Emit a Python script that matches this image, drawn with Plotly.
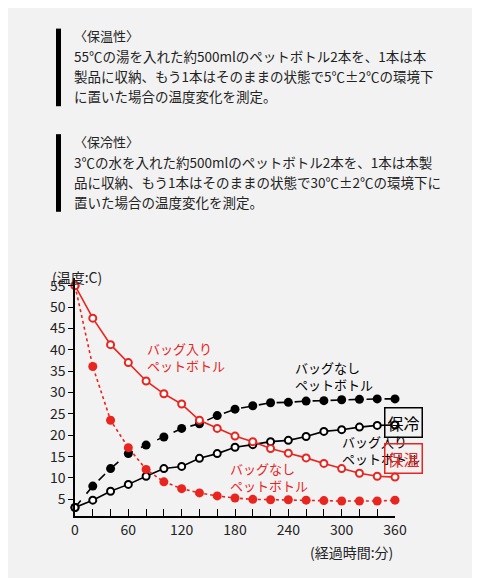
import plotly.graph_objects as go

minutes = list(range(0, 361, 20))
hot_bag = [55, 47.4, 41.2, 37, 32.7, 29.7, 27.3, 23.5, 21.6, 19.8, 18.5, 16.9, 15.8, 14.7, 13.4, 12.2, 11.1, 10.4, 10.2]
hot_nobag = [55, 36.1, 23.5, 17.1, 12, 9.1, 7.5, 6.5, 5.8, 5.3, 5, 4.9, 4.9, 4.8, 4.7, 4.6, 4.6, 4.6, 4.8]
cold_nobag = [3.1, 8.1, 12.2, 15.7, 17.7, 19.6, 21.6, 22.7, 24.6, 26.1, 26.9, 27.6, 27.7, 28, 28.1, 28.3, 28.4, 28.5, 28.5]
cold_bag = [3.1, 4.8, 6.9, 8.5, 10.4, 12.2, 12.7, 14.6, 15.7, 17.2, 17.8, 18.5, 18.8, 19.7, 20.9, 21.3, 21.9, 22.3, 22.4]

RED = "#e8251f"
FONT = "Noto Sans CJK JP"
Y0, Y1 = 1.1, 56.8

fig = go.Figure()
def add(y, color, dash, filled):
    fig.add_trace(go.Scatter(
        x=minutes, y=y, mode="lines+markers", cliponaxis=False,
        line=dict(color=color, width=1.6, dash=dash),
        marker=dict(size=9 if filled else 7, color=color if filled else "white",
                    line=dict(color=color, width=2 if not filled else 0)),
        showlegend=False))

add(cold_nobag, "black", "dash", True)
add(cold_bag, "black", "solid", False)
add(hot_nobag, RED, "dot", True)
add(hot_bag, RED, "solid", False)

ticktext = [str(m) if m % 60 == 0 else "" for m in minutes]
fig.update_xaxes(range=[0, 360], tickvals=minutes, ticktext=ticktext, ticks="inside",
                 ticklen=7, tickcolor="black", showline=True, linecolor="black", linewidth=1.5,
                 showgrid=False, zeroline=False, automargin=False, tickfont=dict(size=14, color="#222"))
fig.update_yaxes(range=[Y0, Y1], tickvals=list(range(5, 56, 5)), ticks="outside",
                 ticklen=5, tickcolor="black", showline=True, linecolor="black", linewidth=1.5,
                 showgrid=False, zeroline=False, automargin=False, tickfont=dict(size=14, color="#222"))

ann = [
    (79, 38.2, "バッグ入り<br>ペットボトル", RED),
    (245, 33.8, "バッグなし<br>ペットボトル", "black"),
    (298, 16.5, "バッグ入り<br>ペットボトル", "black"),
    (172, 10.2, "バッグなし<br>ペットボトル", RED),
]
for x, y, t, c in ann:
    fig.add_annotation(x=x, y=y, text=t, showarrow=False, align="left", xanchor="left",
                       font=dict(size=13, color=c, family=FONT))
for yv, t, c in [(23, "保冷", "black"), (11, "保温", RED)]:
    fig.add_annotation(x=391 / 360, y=(yv - Y0) / (Y1 - Y0), xref="paper", yref="paper", text=t,
                       showarrow=False, bordercolor=c, borderwidth=1.5, borderpad=2,
                       font=dict(size=16, color=c, family=FONT))
fig.add_annotation(x=(42 - 67) / 320, y=(578 - 70 - 265) / 230, xref="paper", yref="paper",
                   text="(温度:C)", showarrow=False, xanchor="left",
                   font=dict(size=14, color="#222", family=FONT))
fig.add_annotation(x=1.0, y=-0.1, xref="paper", yref="paper", text="(経過時間:分)", showarrow=False,
                   xanchor="right", yanchor="top", font=dict(size=14, color="#222", family=FONT))

blocks = [
    (44, "〈保温性〉", ["55℃の湯を入れた約500mlのペットボトル2本を、1本は本",
                     "製品に収納、もう1本はそのままの状態で5℃±2℃の環境下",
                     "に置いた場合の温度変化を測定。"]),
    (146, "〈保冷性〉", ["3℃の水を入れた約500mlのペットボトル2本を、1本は本製",
                     "品に収納、もう1本はそのままの状態で30℃±2℃の環境下に",
                     "置いた場合の温度変化を測定。"]),
]
for top, head, lines in blocks:
    fig.add_shape(type="rect", xref="paper", yref="paper", x0=(48 - 67) / 320, x1=(53 - 67) / 320,
                  y0=(578 - 70 - (top + 68)) / 230, y1=(578 - 70 - (top - 7)) / 230,
                  fillcolor="black", line_width=0)
    rows = [head] + lines
    for i, r in enumerate(rows):
        py = top + i * 19.5
        fig.add_annotation(x=(64 - 67) / 320, y=(578 - 70 - py) / 230, xref="paper", yref="paper",
                           text=r, showarrow=False, xanchor="left", yanchor="middle",
                           font=dict(size=13.5 if i else 13, color="#222", family=FONT))

fig.update_layout(width=480, height=578, margin=dict(l=67, r=93, t=270, b=70, autoexpand=False),
                  plot_bgcolor="#f2f2f2", paper_bgcolor="#f2f2f2",
                  font=dict(family=FONT))
fig.write_html("out.html")
